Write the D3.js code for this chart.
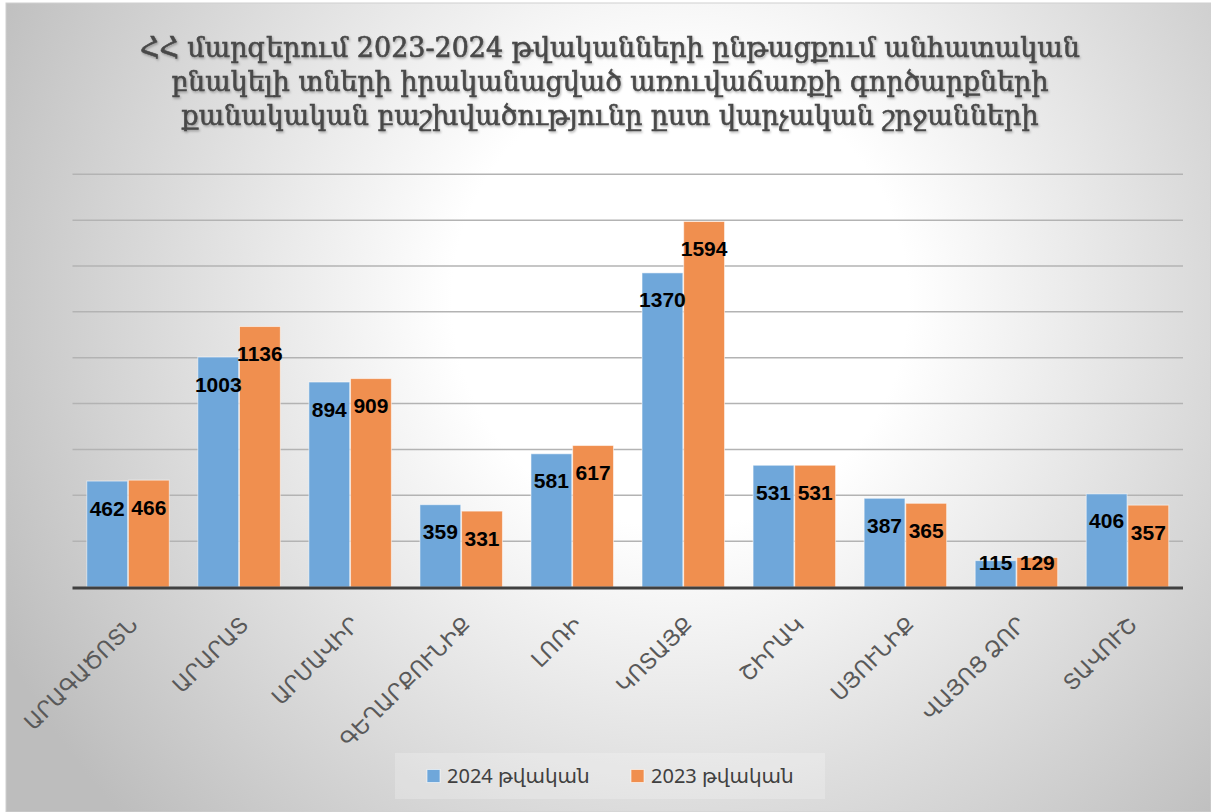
<!DOCTYPE html>
<html>
<head>
<meta charset="utf-8">
<script src="https://cdn.jsdelivr.net/npm/d3@7"></script>
<style>
  html, body { margin: 0; padding: 0; background: #ffffff; }
  svg { display: block; }
</style>
</head>
<body>
<div id="chart"></div>
<script>
const titleLines = [
  "ՀՀ մարզերում 2023-2024 թվականների ընթացքում անհատական",
  "բնակելի տների իրականացված առուվաճառքի գործարքների",
  "քանակական բաշխվածությունը ըստ վարչական շրջանների"
];
const categories = ["ԱՐԱԳԱԾՈՏՆ", "ԱՐԱՐԱՏ", "ԱՐՄԱՎԻՐ", "ԳԵՂԱՐՔՈՒՆԻՔ", "ԼՈՌԻ", "ԿՈՏԱՅՔ", "ՇԻՐԱԿ", "ՍՅՈՒՆԻՔ", "ՎԱՅՈՑ ՁՈՐ", "ՏԱՎՈՒՇ"];
const seriesNames = ["2024 թվական", "2023 թվական"];
const values2024 = [462, 1003, 894, 359, 581, 1370, 531, 387, 115, 406];
const values2023 = [466, 1136, 909, 331, 617, 1594, 531, 365, 129, 357];
const gridTicks = [0, 200, 400, 600, 800, 1000, 1200, 1400, 1600, 1800];
const colors = ["#6FA7DA", "#F08F4F"];

const W = 1211, H = 812;
const svg = d3.select("#chart").append("svg").attr("width", W).attr("height", H);
const defs = svg.append("defs");
const grad = defs.append("radialGradient").attr("id", "bg")
  .attr("gradientUnits", "userSpaceOnUse")
  .attr("cx", 680).attr("cy", 300).attr("r", 760);
grad.append("stop").attr("offset", "0").attr("stop-color", "#ffffff");
grad.append("stop").attr("offset", "0.3").attr("stop-color", "#ffffff");
grad.append("stop").attr("offset", "1").attr("stop-color", "#bdbdbd");

const sh = defs.append("filter").attr("id", "tshadow").attr("x", "-5%").attr("y", "-20%").attr("width", "110%").attr("height", "150%");
sh.append("feDropShadow").attr("dx", 1).attr("dy", 1.5).attr("stdDeviation", 0.8).attr("flood-color", "#000").attr("flood-opacity", 0.3);

// chart background
svg.append("rect").attr("x", 6).attr("y", 3).attr("width", W - 6).attr("height", H - 3)
  .attr("fill", "url(#bg)").attr("stroke", "#d0d0d0").attr("stroke-width", 1);

// title
const titleWidths = [940, 877, 857];
const titleBase = [57, 91, 125];
svg.append("g").selectAll("text").data(titleLines).join("text")
  .attr("x", 610).attr("y", (d, i) => titleBase[i])
  .attr("text-anchor", "middle")
  .attr("textLength", (d, i) => titleWidths[i])
  .attr("lengthAdjust", "spacingAndGlyphs")
  .attr("font-family", "'DejaVu Serif', 'Noto Sans', serif")
  .attr("font-weight", "normal")
  .attr("font-size", 28)
  .attr("fill", "#484848")
  .attr("stroke", "#484848").attr("stroke-width", 0.6)
  .attr("filter", "url(#tshadow)")
  .text(d => d);

// scales
const x0 = d3.scaleBand().domain(categories).range([72.5, 1183]).paddingInner(0.257).paddingOuter(0.1285);
const x1 = d3.scaleBand().domain(seriesNames).range([0, x0.bandwidth()]).paddingInner(0.02);
const y = d3.scaleLinear().domain([0, 1800]).range([587, 174.3]);

// gridlines
svg.append("g").selectAll("line").data(gridTicks.filter(t => t > 0)).join("line")
  .attr("x1", 72.5).attr("x2", 1183)
  .attr("y1", d => y(d)).attr("y2", d => y(d))
  .attr("stroke", "#b3b3b3").attr("stroke-width", 1.5);

// bars
const rows = categories.map((c, i) => ({ cat: c, vals: [values2024[i], values2023[i]] }));
const groups = svg.append("g").selectAll("g").data(rows).join("g")
  .attr("transform", d => `translate(${x0(d.cat)},0)`);
groups.selectAll("rect").data(d => d.vals.map((v, k) => ({ v, k }))).join("rect")
  .attr("x", d => x1(seriesNames[d.k]))
  .attr("y", d => y(d.v))
  .attr("width", x1.bandwidth())
  .attr("height", d => y(0) - y(d.v))
  .attr("fill", d => colors[d.k])
  .attr("stroke", "rgba(255,255,255,0.55)").attr("stroke-width", 1);

// data labels
groups.selectAll("text").data(d => d.vals.map((v, k) => ({ v, k }))).join("text")
  .attr("x", d => x1(seriesNames[d.k]) + x1.bandwidth() / 2)
  .attr("y", d => Math.min(y(d.v) + 27, y(0) - 25) + 7.5)
  .attr("text-anchor", "middle")
  .attr("font-family", "'Liberation Sans', Arial, sans-serif")
  .attr("font-weight", "bold")
  .attr("font-size", 21)
  .attr("fill", "#000")
  .text(d => d.v);

// baseline
svg.append("line").attr("x1", 72.5).attr("x2", 1183).attr("y1", y(0) + 1).attr("y2", y(0) + 1)
  .attr("stroke", "#404040").attr("stroke-width", 3);

// category labels
svg.append("g").selectAll("text").data(categories).join("text")
  .attr("transform", d => `translate(${x0(d) + x0.bandwidth() / 2 + 11},${626}) rotate(-45)`)
  .attr("text-anchor", "end")
  .attr("font-family", "'Noto Sans', 'DejaVu Sans', sans-serif")
  .attr("font-size", 22)
  .attr("fill", "#595959")
  .text(d => d);

// legend
svg.append("rect").attr("x", 395).attr("y", 753).attr("width", 430).attr("height", 46)
  .attr("fill", "rgba(255,255,255,0.22)");
const legX = [427, 631];
const leg = svg.append("g").selectAll("g").data(seriesNames).join("g")
  .attr("transform", (d, i) => `translate(${legX[i]},0)`);
leg.append("rect").attr("x", 0).attr("y", 769.5).attr("width", 13).attr("height", 13)
  .attr("fill", (d, i) => colors[i]).attr("stroke", "rgba(255,255,255,0.6)");
leg.append("text").attr("x", 20).attr("y", 783)
  .attr("font-family", "'Noto Sans', 'DejaVu Sans', sans-serif")
  .attr("font-size", 20)
  .attr("fill", "#404040")
  .text(d => d);
</script>
</body>
</html>
